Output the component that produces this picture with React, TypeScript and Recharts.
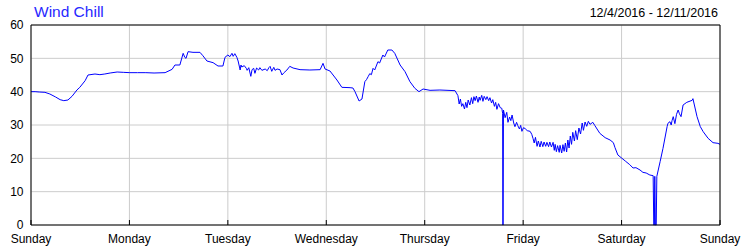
import { LineChart, Line, XAxis, YAxis, CartesianGrid, ReferenceLine } from 'recharts';

// hours since Sunday 00:00 (12/4/2016)
const hours = [
  0, 1, 2, 3.4, 4.6, 6, 7.1, 8, 9, 10, 11.2, 11.9, 13.2, 13.9, 15.6, 16.8, 18, 19.3, 21, 22.5,
  24.1, 26, 28, 30, 32.7, 34.4, 35.1, 36.3, 37.1, 37.5, 37.8, 38.3, 39.5, 41.2, 41.9, 42.9, 44.4, 45.6, 46.8, 47.3,
  48, 48.5, 49, 49.3, 49.7, 50.2, 50.5, 51, 51.2, 51.4, 52, 52.5, 52.7, 53.1, 53.6, 53.9, 54.3, 54.6, 55, 55.5,
  55.8, 56.3, 57.1, 57.6, 58, 58.3, 58.7, 59.2, 59.5, 60, 60.7, 61.2, 61.6, 62.4, 63.1, 63.9, 65.6, 68, 70.5, 71.2,
  71.7, 72.9, 74.6, 75.8, 77.8, 78.5, 79, 80, 80.7, 81.4, 81.8, 82.2, 82.6, 83, 83.4, 83.8, 84.6, 85, 85.8, 86.2,
  87, 88, 88.7, 90, 91.2, 92.4, 93.6, 94.6, 95.6, 97.3, 99.7, 103.4, 104.1, 104.4, 104.7, 105, 105.3, 105.7, 106, 106.3,
  106.6, 107, 107.4, 107.7, 108, 108.3, 108.6, 109, 109.3, 109.5, 109.9, 110.2, 110.5, 110.9, 111.2, 111.6, 111.9, 112.3, 112.6, 113,
  113.3, 113.6, 114, 114.4, 114.8, 115, 115.05, 115.12, 115.2, 115.6, 116, 116.3, 116.7, 117, 117.3, 117.7, 118, 118.4, 118.7, 119.1,
  119.4, 119.7, 120.1, 120.5, 121, 121.7, 122.1, 122.4, 122.7, 123, 123.4, 123.7, 124.1, 124.4, 124.8, 125.1, 125.5, 125.8, 126.2, 126.5,
  126.9, 127.3, 127.6, 127.8, 128.1, 128.4, 128.8, 129, 129.4, 129.7, 130, 130.3, 130.6, 130.9, 131.2, 131.5, 131.8, 132.1, 132.5, 132.8,
  133.2, 133.6, 134, 134.4, 134.7, 135.1, 135.5, 135.9, 136.3, 137, 137.5, 138.7, 140, 141.2, 142, 142.4, 143.1, 144.1, 144.9, 146,
  146.8, 147.5, 148.5, 149.2, 150, 150.9, 151.7, 151.85, 152, 152.1, 152.25, 152.45, 152.6, 153.4, 154.1, 155.1, 155.3, 155.8, 156.1, 156.3,
  156.6, 157, 157.4, 157.8, 158.1, 158.5, 159, 159.9, 161.2, 161.4, 162.4, 163.2, 163.9, 165.1, 166.3, 167.5, 168,
];

const windChill = [
  40, 40, 39.9, 39.8, 39.3, 38.4, 37.6, 37.3, 37.5, 38.6, 40.5, 41.3, 43.3, 45, 45.3, 45.1, 45.3, 45.6, 45.9, 45.8,
  45.7, 45.7, 45.7, 45.6, 45.7, 46.7, 48, 48, 51.5, 50.3, 50, 52, 51.8, 51.8, 50.8, 49.2, 48.7, 47.7, 47.7, 50.3,
  51, 50.5, 51.5, 50.6, 51.4, 50.3, 49.2, 46.5, 48, 47.4, 47.8, 47, 46.4, 47.2, 44.6, 46.6, 47, 45.5, 47.1, 46.5,
  47.2, 46.4, 46.8, 46.3, 47.2, 47.6, 46.1, 47.3, 46.4, 46.8, 46.6, 45, 45.6, 46.5, 47.6, 47.1, 46.6, 46.5, 46.6, 48.5,
  46.8, 46.2, 43.5, 41.3, 41.2, 41.1, 40, 37.2, 37.8, 43, 43.6, 44.5, 45.4, 45.1, 47, 46.5, 49, 48.6, 51, 50.4,
  52.5, 52.5, 51.5, 48, 46, 43, 41, 40, 40.8, 40.4, 40.5, 40.3, 38.8, 36.3, 37.8, 35.6, 36.4, 34.8, 36.8, 35.2,
  37.5, 36, 38.2, 36.4, 38.5, 37.3, 38.7, 36.8, 38.4, 37.4, 38.9, 37.1, 38.6, 37.6, 38.5, 37.3, 38.2, 36.6, 37.6, 35.6,
  36.8, 34.7, 36.4, 35.2, 35, 33.5, 0, 0, 34.5, 32.2, 33.8, 30.8, 32.4, 31.3, 33, 30.6, 29.5, 30.8, 29.8, 28.8,
  29.9, 28.1, 29.2, 28.9, 28.3, 28.1, 27.2, 26, 24.6, 26.3, 23.6, 25.2, 23.4, 25.1, 23.5, 24.9, 23.6, 24.8, 23.5, 24.9,
  23.4, 24.8, 22.4, 24.2, 22, 23.8, 21.8, 23.9, 21.6, 24.1, 22.1, 24.6, 21.9, 25.5, 23.1, 26.7, 24.2, 27.8, 25.2, 28.3,
  25.6, 29.1, 27.3, 30.6, 28.4, 30.9, 29.6, 31.1, 30.2, 30.8, 29.8, 27.5, 26.2, 25.5, 24.7, 23.2, 21, 20, 19.2, 18.1,
  17.1, 17.2, 16.5, 15.8, 15.6, 15, 14.8, 0, 0, 14.6, 0, 0, 14.6, 19, 23, 29.5, 30.5, 31, 30, 31.3,
  32.5, 30.4, 33.2, 34.5, 33.4, 32.5, 36, 36.8, 37.4, 37.9, 32.5, 29.5, 28, 26, 24.7, 24.5, 24.2,
];

const dayTicks = [0, 24, 48, 72, 96, 120, 144, 168];
const dayLabels = ['Sunday', 'Monday', 'Tuesday', 'Wednesday', 'Thursday', 'Friday', 'Saturday', 'Sunday'];
const valueTicks = [0, 10, 20, 30, 40, 50, 60];

const title = 'Wind Chill';
const dateRange = '12/4/2016 - 12/11/2016';

const data = hours.map((h, i) => ({ h, v: windChill[i] }));

const font = '"Liberation Sans", Arial, sans-serif';
const tickStyle = { fontFamily: font, fontSize: 12, fill: '#000' };

export default function App() {
  return (
    <div style={{ position: 'relative', width: 750, height: 250, background: '#fff' }}>
      <style>{'body{margin:0}'}</style>
      <LineChart width={750} height={250} data={data} margin={{ top: 25, right: 0, bottom: 0, left: 0 }}>
        <CartesianGrid stroke="#cccccc" />
        <XAxis
          dataKey="h"
          type="number"
          domain={[0, 168]}
          ticks={dayTicks}
          interval={0}
          height={25}
          tickFormatter={(h: number) => dayLabels[dayTicks.indexOf(h)]}
          tick={tickStyle}
          tickSize={-5}
          tickMargin={14.5}
          axisLine={{ stroke: '#000' }}
          tickLine={{ stroke: '#000' }}
        />
        <YAxis
          domain={[0, 60]}
          ticks={valueTicks}
          width={31}
          tick={tickStyle}
          tickLine={false}
          tickSize={0}
          tickMargin={7.5}
          axisLine={{ stroke: '#000' }}
        />
        <YAxis
          yAxisId="right"
          orientation="right"
          domain={[0, 60]}
          ticks={valueTicks}
          width={30}
          tick={tickStyle}
          tickLine={false}
          tickSize={0}
          tickMargin={7}
          axisLine={{ stroke: '#000' }}
        />
        <ReferenceLine y={60} stroke="#000" />
        <Line
          dataKey="v"
          type="linear"
          stroke="#0000ff"
          strokeWidth={1}
          dot={false}
          isAnimationActive={false}
        />
      </LineChart>
      <svg
        width={750}
        height={30}
        style={{ position: 'absolute', left: 0, top: 0, pointerEvents: 'none' }}
      >
        <text x={34} y={17} fontFamily={font} fontSize={15.5} fill="#2828ff">
          {title}
        </text>
        <text x={718} y={17.3} fontFamily={font} fontSize={12.5} fill="#000" textAnchor="end">
          {dateRange}
        </text>
      </svg>
    </div>
  );
}
